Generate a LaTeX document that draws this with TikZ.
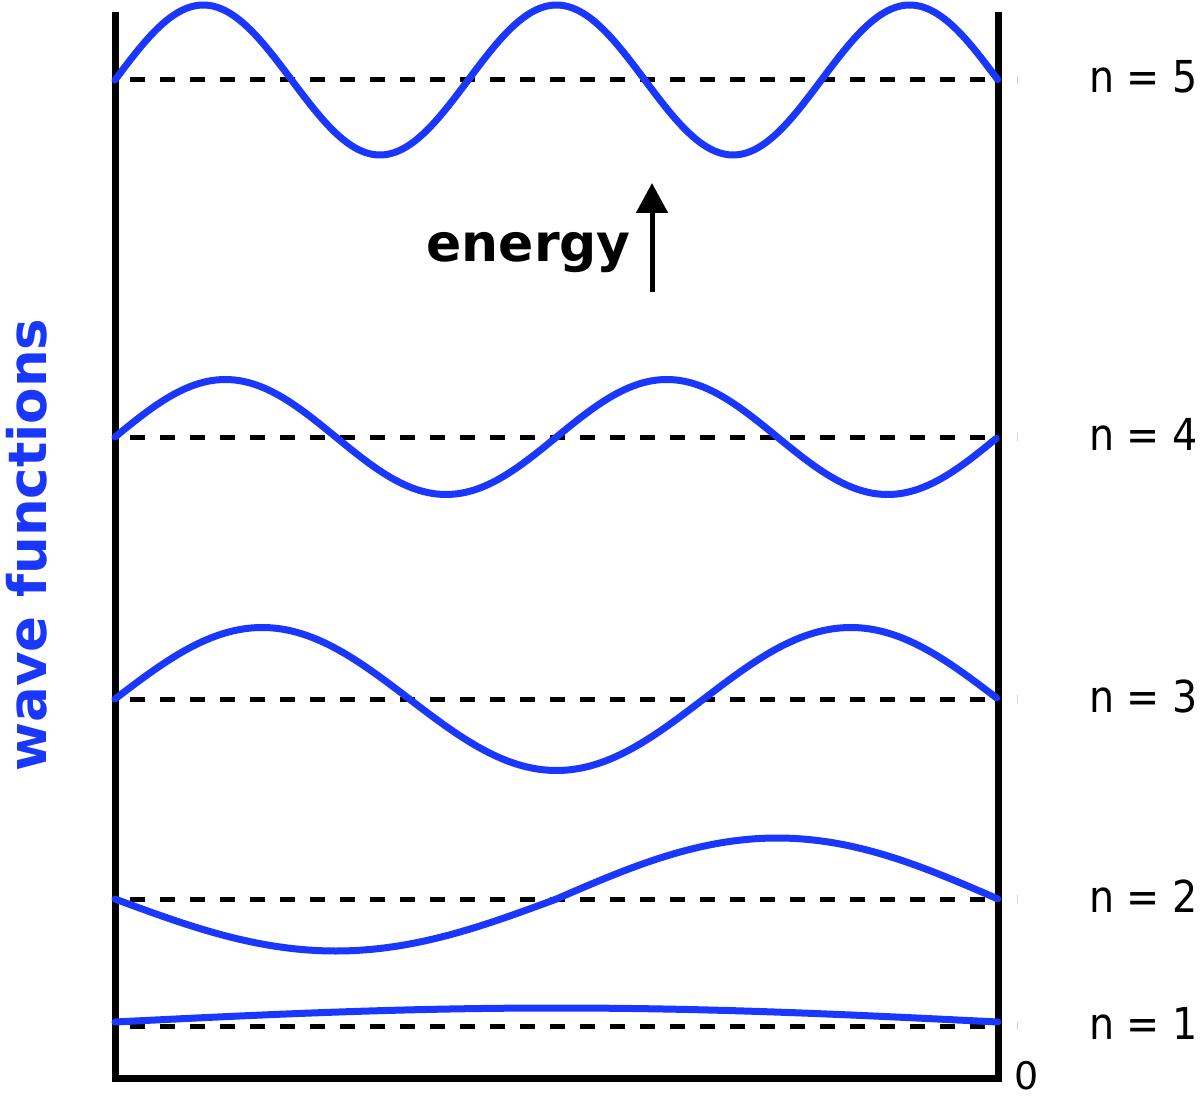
\documentclass[tikz,border=0pt]{standalone}
\usepackage{fontspec}
\setmainfont{DejaVu Sans}
\usetikzlibrary{arrows.meta}
\definecolor{wblue}{RGB}{25,55,255}
\tikzset{
  wall/.style={line width=7pt, line join=miter, line cap=butt},
  level/.style={line width=5pt, dash pattern=on 15pt off 15pt},
  wave/.style={wblue, line width=7pt, line cap=round, line join=round},
  tick/.style={gray!35, line width=1pt},
  lab/.style={anchor=base west, inner sep=0pt, font=\fontsize{44}{50}\selectfont},
}
\begin{document}
\begin{tikzpicture}[x=1pt,y=-1pt]
\useasboundingbox (0,0) rectangle (1200,1099);
% box
\coordinate (tl) at (115,12);
\coordinate (bl) at (115,1078);
\coordinate (br) at (998,1078);
\coordinate (tr) at (998,12);
\draw[wall] (tl) -- (bl) -- (br) -- (tr);
% levels
\foreach \yy/\nn in {80/5,437/4,699/3,899/2,1026/1}{
  \coordinate (L\nn) at (130,\yy);
  \coordinate (R\nn) at (995,\yy);
  \draw[level] (L\nn) -- (R\nn);
  \coordinate (Ta\nn) at (1017,\yy-4);
  \coordinate (Tb\nn) at (1017,\yy+4);
  \draw[tick] (Ta\nn) -- (Tb\nn);
  \node[lab] (n\nn) at (1089,\yy+13) {\scalebox{0.9}[1]{n = \nn}};
}
% waves
\draw[wave] plot[domain=0:1, samples=241, smooth] ({115+883*\x},{80-75*sin(900*\x)});
\draw[wave] plot[domain=0:1, samples=201, smooth] ({115+883*\x},{437-57.5*sin(720*\x)});
\draw[wave] plot[domain=0:1, samples=161, smooth] ({115+883*\x},{699-71.5*sin(540*\x)});
\draw[wave] plot[domain=0:0.5, samples=61, smooth] ({115+883*\x},{899+52*sin(360*\x)});
\draw[wave] plot[domain=0.5:1, samples=61, smooth] ({115+883*\x},{899+61*sin(360*\x)});
\draw[wave] plot[domain=0:1, samples=81, smooth] ({115+883*\x},{1022-14*sin(180*\x)});
% zero
\node[anchor=base, inner sep=0pt, font=\fontsize{38}{44}\selectfont] (zero) at (1027,1089) {0};
% energy
\node[anchor=base east, inner sep=0pt, font=\fontsize{52}{60}\bfseries\selectfont] (energy) at (631,262) {energy};
\coordinate (eb) at (652,292);
\coordinate (et) at (652,183);
\draw[line width=5pt, -{Triangle[width=31pt,length=30pt]}] (eb) -- (et);
% wave functions
\node[rotate=90, anchor=base, inner sep=0pt, text=wblue, font=\fontsize{53}{60}\bfseries\selectfont] (wf) at (46,545) {wave functions};
\end{tikzpicture}
\end{document}
